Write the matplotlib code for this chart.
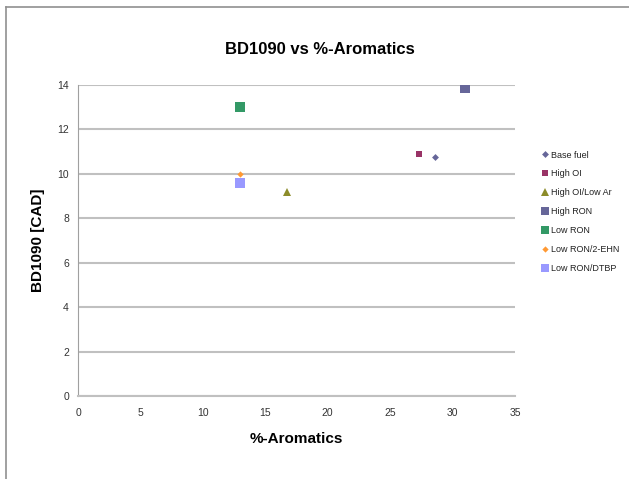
import matplotlib
matplotlib.use("Agg")
import matplotlib.pyplot as plt
from matplotlib.lines import Line2D

plt.rcParams['font.family'] = ['Liberation Sans', 'DejaVu Sans']

# Fuel blends: aromatics content [%] and burn duration 10-90 [CAD]
fuels = ["Base fuel", "High OI", "High OI/Low Ar", "High RON",
         "Low RON", "Low RON/2-EHN", "Low RON/DTBP"]
aromatics = [28.6, 27.3, 16.7, 31.0, 13.0, 13.0, 13.0]
bd1090 = [10.75, 10.9, 9.2, 13.85, 13.0, 10.0, 9.6]

colors = ["#666699", "#993366", "#8c8c2a", "#666699", "#339966", "#ff9933", "#9999ff"]
markers = ["D", "s", "^", "s", "s", "D", "s"]
sizes = [3.5, 4.5, 5.5, 6.5, 6.5, 3.2, 6.5]

x_ticks = [0, 5, 10, 15, 20, 25, 30, 35]
y_ticks = [0, 2, 4, 6, 8, 10, 12, 14]

fig = plt.figure(figsize=(6.29, 4.79), dpi=100)
ax = fig.add_axes([78 / 629, 1 - 396 / 479, (515 - 78) / 629, (396 - 85) / 479])

for name, xv, yv, c, m, s in zip(fuels, aromatics, bd1090, colors, markers, sizes):
    ax.plot([xv], [yv], linestyle="none", marker=m, color=c, markersize=s,
            markeredgewidth=0, label=name, zorder=3)

ax.set_xlim(0, 35)
ax.set_ylim(0, 14)
ax.set_xticks(x_ticks)
ax.set_yticks(y_ticks)
ax.yaxis.grid(True, color="#c0c0c0", linewidth=1.5)
ax.set_axisbelow(True)
for side in ("top", "right"):
    ax.spines[side].set_visible(False)
ax.spines["left"].set_color("#a0a0a0")
ax.spines["bottom"].set_color("#c0c0c0")
ax.spines["bottom"].set_linewidth(1.5)
ax.tick_params(axis="both", length=0, labelsize=7.5, labelcolor="#333333")
ax.tick_params(axis="y", pad=6.5)
ax.tick_params(axis="x", pad=8.5)

fig.text(320 / 629, 1 - 49 / 479, "BD1090 vs %-Aromatics", fontsize=12,
         fontweight="bold", ha="center", va="center")
ax.set_xlabel("%-Aromatics", fontsize=11, fontweight="bold", labelpad=10)
ax.set_ylabel("BD1090 [CAD]", fontsize=11, fontweight="bold", labelpad=8.5)

handles = [Line2D([], [], linestyle="none", marker=m, color=c,
                  markersize=min(s, 5.5), markeredgewidth=0)
           for c, m, s in zip(colors, markers, sizes)]
fig.legend(handles, fuels, loc="upper left", bbox_to_anchor=(538 / 629, 1 - 146 / 479),
           frameon=False, fontsize=6.5, labelspacing=1.1, handlelength=0.6,
           handletextpad=0.3, borderpad=0, labelcolor="#222222")

# outer chart-area border (left and top edges)
fig.add_artist(Line2D([6.5 / 629, 6.5 / 629], [0, 1 - 7 / 479], color="#909090",
                      linewidth=1.2, transform=fig.transFigure))
fig.add_artist(Line2D([6.5 / 629, 1], [1 - 7 / 479, 1 - 7 / 479], color="#909090",
                      linewidth=1.2, transform=fig.transFigure))

fig.savefig("out.png", dpi=100)
